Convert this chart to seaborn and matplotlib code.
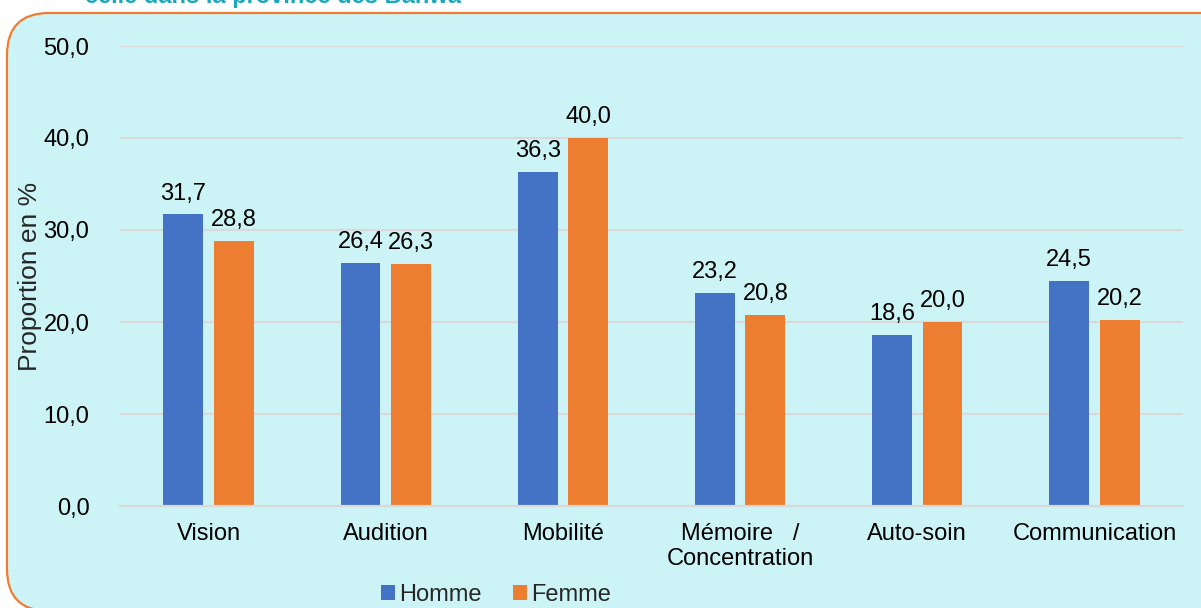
import seaborn as sns
import matplotlib
matplotlib.use("Agg")
import matplotlib.pyplot as plt
from matplotlib.patches import FancyBboxPatch
import pandas as pd

categories = ["Vision", "Audition", "Mobilité", "Mémoire   /\nConcentration",
              "Auto-soin", "Communication"]
homme = [31.7, 26.4, 36.3, 23.2, 18.6, 24.5]
femme = [28.8, 26.3, 40.0, 20.8, 20.0, 20.2]
series = ["Homme", "Femme"]
yticks = [0, 10, 20, 30, 40, 50]

df = pd.DataFrame({"categorie": categories, "Homme": homme, "Femme": femme})
df = df.melt(id_vars="categorie", var_name="sexe", value_name="proportion")

sns.set_style("white")
plt.rcParams["font.family"] = ["Liberation Sans", "DejaVu Sans"]

fig = plt.figure(figsize=(12.01, 6.08), dpi=100)
fig.patch.set_facecolor("white")

# fond arrondi avec bordure orange (dépasse à droite et en bas)
box = FancyBboxPatch((7 / 1201, -0.005), 1.2, 1 - 13 / 608 + 0.005,
                     boxstyle="round,pad=0.0,rounding_size=0.035",
                     transform=fig.transFigure, facecolor="#CCF4F6",
                     edgecolor="#ED7D31", linewidth=1.6, zorder=-1,
                     mutation_aspect=1201 / 608)
fig.patches.append(box)

# titre coupé en haut
fig.text(85 / 1201, 1 - 3 / 608, "celle dans la province des Banwa",
         fontsize=17, fontweight="bold", color="#1AA8BC", va="baseline", ha="left")

ax = fig.add_axes([120 / 1201, 1 - 506 / 608, (1183 - 120) / 1201, (506 - 46) / 608])
ax.set_facecolor("none")
ax.set_zorder(1)

sns.barplot(data=df, x="categorie", y="proportion", hue="sexe", hue_order=series,
            palette=["#4472C4", "#ED7D31"], saturation=1, width=0.57, gap=0.21,
            ax=ax, edgecolor="none", linewidth=0)

for cont, vals in zip(ax.containers, [homme, femme]):
    ax.bar_label(cont, labels=[f"{v:.1f}".replace(".", ",") for v in vals],
                 padding=7, fontsize=17, color="black")

ax.set_ylim(0, 50)
ax.set_yticks(yticks)
ax.set_yticklabels([f"{t:.1f}".replace(".", ",") for t in yticks])
ax.yaxis.grid(True, color="#D9D9D9", linewidth=1.6)
ax.set_axisbelow(True)
ax.tick_params(axis="both", length=0, labelsize=17, colors="black")
ax.tick_params(axis="y", pad=22)
ax.tick_params(axis="x", pad=12)
for s in ["top", "right", "left"]:
    ax.spines[s].set_visible(False)
ax.spines["bottom"].set_color("#D9D9D9")
ax.spines["bottom"].set_linewidth(1.6)

ax.set_xlabel("")
ax.set_ylabel("Proportion en %", fontsize=19)
ax.yaxis.set_label_coords(-0.0734, 0.5)

handles, labels = ax.get_legend_handles_labels()
ax.legend(handles, labels, loc="center", bbox_to_anchor=(496 / 1201, 1 - 595 / 608),
          bbox_transform=fig.transFigure, ncol=2, frameon=False, fontsize=17,
          handlelength=0.6, handleheight=0.6, handletextpad=0.2,
          columnspacing=1.3)

fig.savefig("out.png", dpi=100)
